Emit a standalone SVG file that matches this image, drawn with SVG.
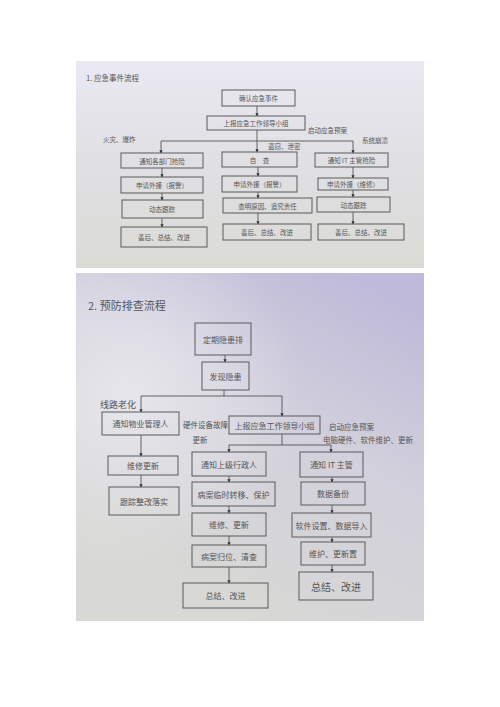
<svg xmlns="http://www.w3.org/2000/svg" width="500" height="707" viewBox="0 0 500 707">
<defs>
<linearGradient id="g1" x1="0" y1="0" x2="0" y2="1">
<stop offset="0" stop-color="#eae9f2"/>
<stop offset="0.5" stop-color="#e0dfe3"/>
<stop offset="1" stop-color="#dbdbd6"/>
</linearGradient>
<linearGradient id="g2" x1="0.8" y1="0" x2="0.3" y2="0.9">
<stop offset="0" stop-color="#bfbad9"/>
<stop offset="0.45" stop-color="#d2d0dc"/>
<stop offset="1" stop-color="#d8d8d4"/>
</linearGradient>
<radialGradient id="g3" cx="0.15" cy="0.35" r="0.5">
<stop offset="0" stop-color="#ecebf0" stop-opacity="0.8"/>
<stop offset="1" stop-color="#ecebf0" stop-opacity="0"/>
</radialGradient>
<marker id="ah" viewBox="0 0 6 6" refX="5" refY="3" markerWidth="4" markerHeight="4" orient="auto">
<path d="M0,0 L6,3 L0,6 z" fill="#333"/>
</marker>
<style>
.b{fill:none;stroke:#5a5a5a;stroke-width:1}
.t{font-family:"Noto Sans CJK SC","Noto Sans",sans-serif;fill:#555;text-anchor:middle;dominant-baseline:central}
.s{font-size:6.5px}
.m{font-size:8px}
.l{font-family:"Noto Sans CJK SC","Noto Sans",sans-serif;fill:#555;dominant-baseline:central}
.c{fill:none;stroke:#444;stroke-width:0.8}
.a{fill:none;stroke:#444;stroke-width:0.8;marker-end:url(#ah)}
</style>
</defs>
<rect width="500" height="707" fill="#ffffff"/>
<rect x="76" y="61" width="348" height="207" fill="url(#g1)"/>
<rect x="76" y="273" width="348" height="348" fill="url(#g2)"/>
<rect x="76" y="273" width="348" height="348" fill="url(#g3)"/>

<text class="l" x="86" y="77" font-size="7.5">1. 应急事件流程</text>
<text class="l" x="88" y="305" font-size="11">2. 预防排查流程</text>

<g id="connectors1">
<line class="a" x1="257" y1="106" x2="257" y2="116"/>
<line class="a" x1="257" y1="130" x2="257" y2="152"/>
<polyline class="c" points="161,141 353,141"/>
<line class="a" x1="161" y1="141" x2="161" y2="153"/>
<line class="a" x1="353" y1="141" x2="353" y2="153"/>
<line class="a" x1="162" y1="168" x2="162" y2="177"/>
<line class="a" x1="162" y1="193" x2="162" y2="200"/>
<line class="a" x1="162" y1="218" x2="162" y2="227"/>
<line class="a" x1="258" y1="167" x2="258" y2="176"/>
<line class="a" x1="258" y1="192" x2="258" y2="198"/>
<line class="a" x1="258" y1="213" x2="258" y2="224"/>
<line class="a" x1="353" y1="167" x2="353" y2="178"/>
<line class="a" x1="353" y1="190" x2="353" y2="197"/>
<line class="a" x1="353" y1="212" x2="353" y2="224"/>
</g>
<g id="labels1">
<text class="l s" x="103" y="139">火灾、爆炸</text>
<text class="l s" x="268" y="146">盗窃、泄密</text>
<text class="l s" x="308" y="130">启动应急预案</text>
<text class="l s" x="362" y="140">系统崩溃</text>
</g>
<g id="n1"><rect class="b" x="222" y="90" width="73" height="16"/><text class="t s" x="258.5" y="98">确认应急事件</text></g>
<g id="n2"><rect class="b" x="207" y="116" width="98" height="14"/><text class="t s" x="256" y="123">上报应急工作领导小组</text></g>
<g id="n3"><rect class="b" x="121" y="153" width="82" height="15"/><text class="t s" x="162" y="160.5">通知各部门抢险</text></g>
<g id="n4"><rect class="b" x="121" y="177" width="82" height="16"/><text class="t s" x="162" y="185">申请外援（报警）</text></g>
<g id="n5"><rect class="b" x="122" y="200" width="81" height="18"/><text class="t s" x="162" y="209">动态跟踪</text></g>
<g id="n6"><rect class="b" x="121" y="227" width="86" height="20"/><text class="t s" x="164" y="237">善后、总结、改进</text></g>
<g id="n7"><rect class="b" x="222" y="152" width="75" height="15"/><text class="t s" x="259.5" y="159.5">自　查</text></g>
<g id="n8"><rect class="b" x="222" y="176" width="75" height="16"/><text class="t s" x="259.5" y="184">申请外援（报警）</text></g>
<g id="n9"><rect class="b" x="223" y="198" width="89" height="15"/><text class="t s" x="267.5" y="205.5">查明原因、追究责任</text></g>
<g id="n10"><rect class="b" x="223" y="224" width="88" height="16"/><text class="t s" x="267" y="232">善后、总结、改进</text></g>
<g id="n11"><rect class="b" x="315" y="153" width="73" height="14"/><text class="t s" x="351.5" y="160">通知 IT 主管抢险</text></g>
<g id="n12"><rect class="b" x="318" y="178" width="70" height="12"/><text class="t s" x="353" y="184">申请外援（维修）</text></g>
<g id="n13"><rect class="b" x="317" y="197" width="73" height="15"/><text class="t s" x="353.5" y="204.5">动态跟踪</text></g>
<g id="n14"><rect class="b" x="318" y="224" width="86" height="16"/><text class="t s" x="361" y="232">善后、总结、改进</text></g>

<g id="connectors2">
<line class="a" x1="225" y1="355" x2="225" y2="362"/>
<line class="c" x1="224" y1="390" x2="224" y2="396"/>
<polyline class="c" points="141,396 282,396"/>
<line class="a" x1="141" y1="396" x2="141" y2="412"/>
<line class="a" x1="282" y1="396" x2="282" y2="416"/>
<line class="c" x1="282" y1="434" x2="282" y2="445"/>
<polyline class="c" points="229,445 331,445"/>
<line class="a" x1="229" y1="445" x2="229" y2="452"/>
<line class="a" x1="331" y1="445" x2="331" y2="452"/>
<line class="a" x1="141" y1="435" x2="141" y2="456"/>
<line class="a" x1="141" y1="475" x2="141" y2="487"/>
<line class="a" x1="229" y1="476" x2="229" y2="482"/>
<line class="a" x1="229" y1="506" x2="229" y2="513"/>
<line class="a" x1="229" y1="536" x2="229" y2="545"/>
<line class="a" x1="229" y1="567" x2="229" y2="583"/>
<line class="a" x1="332" y1="477" x2="332" y2="482"/>
<line class="a" x1="332" y1="505" x2="332" y2="513"/>
<line class="a" x1="332" y1="537" x2="332" y2="542"/>
<line class="a" x1="332" y1="565" x2="332" y2="572"/>
</g>
<g id="labels2">
<text class="l" x="100" y="404" font-size="9">线路老化</text>
<text class="l" x="183" y="424" font-size="7.5">硬件设备故障</text>
<text class="t" x="200" y="439" font-size="7.5">更新</text>
<text class="l" x="329" y="426" font-size="7.5">启动应急预案</text>
<text class="l" x="323" y="439" font-size="7.5">电脑硬件、软件维护、更新</text>
</g>
<g id="m1"><rect class="b" x="195" y="323" width="56" height="32"/><text class="t m" x="223" y="339">定期隐患排</text></g>
<g id="m2"><rect class="b" x="202" y="362" width="47" height="28"/><text class="t m" x="225.5" y="376">发现隐患</text></g>
<g id="m3"><rect class="b" x="102" y="412" width="77" height="23"/><text class="t m" x="140.5" y="423.5">通知物业管理人</text></g>
<g id="m4"><rect class="b" x="229" y="416" width="91" height="18"/><text class="t m" x="274.5" y="425">上报应急工作领导小组</text></g>
<g id="m5"><rect class="b" x="108" y="456" width="70" height="19"/><text class="t m" x="143" y="465.5">维修更新</text></g>
<g id="m6"><rect class="b" x="109" y="487" width="70" height="28"/><text class="t m" x="144" y="501">跟踪整改落实</text></g>
<g id="m7"><rect class="b" x="192" y="452" width="74" height="24"/><text class="t m" x="229" y="464">通知上级行政人</text></g>
<g id="m8"><rect class="b" x="192" y="482" width="83" height="24"/><text class="t m" x="233.5" y="494">病案临时转移、保护</text></g>
<g id="m9"><rect class="b" x="192" y="513" width="74" height="23"/><text class="t m" x="229" y="524.5">维修、更新</text></g>
<g id="m10"><rect class="b" x="192" y="545" width="74" height="22"/><text class="t m" x="229" y="556">病案归位、清查</text></g>
<g id="m11"><rect class="b" x="183" y="583" width="85" height="25"/><text class="t m" x="225.5" y="595.5">总结、改进</text></g>
<g id="m12"><rect class="b" x="300" y="452" width="63" height="25"/><text class="t m" x="331.5" y="464.5">通知 IT 主管</text></g>
<g id="m13"><rect class="b" x="301" y="482" width="64" height="23"/><text class="t m" x="333" y="493.5">数据备份</text></g>
<g id="m14"><rect class="b" x="292" y="513" width="79" height="24"/><text class="t m" x="331.5" y="525">软件设置、数据导入</text></g>
<g id="m15"><rect class="b" x="301" y="542" width="64" height="23"/><text class="t m" x="333" y="553.5">维护、更新置</text></g>
<g id="m16"><rect class="b" x="299" y="572" width="74" height="28"/><text class="t" x="336" y="586" font-size="10">总结、改进</text></g>
</svg>
